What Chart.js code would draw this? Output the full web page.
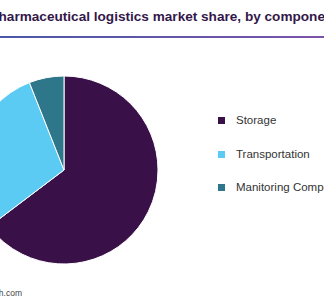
<!DOCTYPE html>
<html>
<head>
<meta charset="utf-8">
<script src="https://cdn.jsdelivr.net/npm/chart.js@4"></script>
<style>
    body { margin: 0; width: 324px; height: 300px; overflow: hidden; background: #fff; position: relative; font-family: "Liberation Sans", Arial, sans-serif; }
    #title { position: absolute; left: -10.5px; top: 10px; white-space: nowrap; font-size: 13.6px; line-height: 13.6px; font-weight: bold; color: #33174a; }
    #rule { position: absolute; left: 0; top: 36px; width: 324px; height: 2px; background: linear-gradient(to right, #4a58a7, #7b54a8); }
    #pie-wrap { position: absolute; left: -36px; top: 70px; width: 200px; height: 200px; }
    #legend { position: absolute; left: 218px; top: 0; }
    .legend-item { position: absolute; left: 0; white-space: nowrap; font-size: 11.5px; line-height: 14px; color: #333; }
    .legend-item span.box { position: absolute; left: 0; top: 4px; width: 7px; height: 7px; }
    .legend-item span.txt { position: absolute; left: 18px; top: 0; }
    #source { position: absolute; left: -300px; width: 322px; top: 288px; text-align: right; white-space: nowrap; font-size: 8.5px; color: #444; }
</style>
</head>
<body>
<div id="title">Pharmaceutical logistics market share, by component</div>
<div id="rule"></div>
<div id="pie-wrap"><canvas id="pie" width="200" height="200"></canvas></div>
<div id="legend"></div>
<div id="source">Source: www.grandviewresearch.com</div>
<script>
    // Share by component (%)
    const components = ['Storage', 'Transportation', 'Manitoring Components'];
    const shares = [64.7, 29.3, 6.0];
    const colors = ['#3a1048', '#5bcbf4', '#2e7689'];

    // Legend rows, same order as the slices
    const legendDiv = document.getElementById('legend');
    const rowTops = [113, 146.5, 180];
    components.forEach((name, i) => {
        legendDiv.innerHTML += `
            <div class="legend-item" style="top:${rowTops[i]}px">
                <span class="box" style="background:${colors[i]}"></span>
                <span class="txt">${name}</span>
            </div>
        `;
    });

    new Chart(document.getElementById('pie'), {
        type: 'pie',
        data: {
            labels: components,
            datasets: [{
                data: shares,
                backgroundColor: colors,
                borderColor: '#ffffff',
                borderWidth: 1
            }]
        },
        options: {
            responsive: false,
            animation: false,
            radius: 94,
            plugins: {
                legend: { display: false },
                tooltip: { enabled: false }
            }
        }
    });
</script>
</body>
</html>
